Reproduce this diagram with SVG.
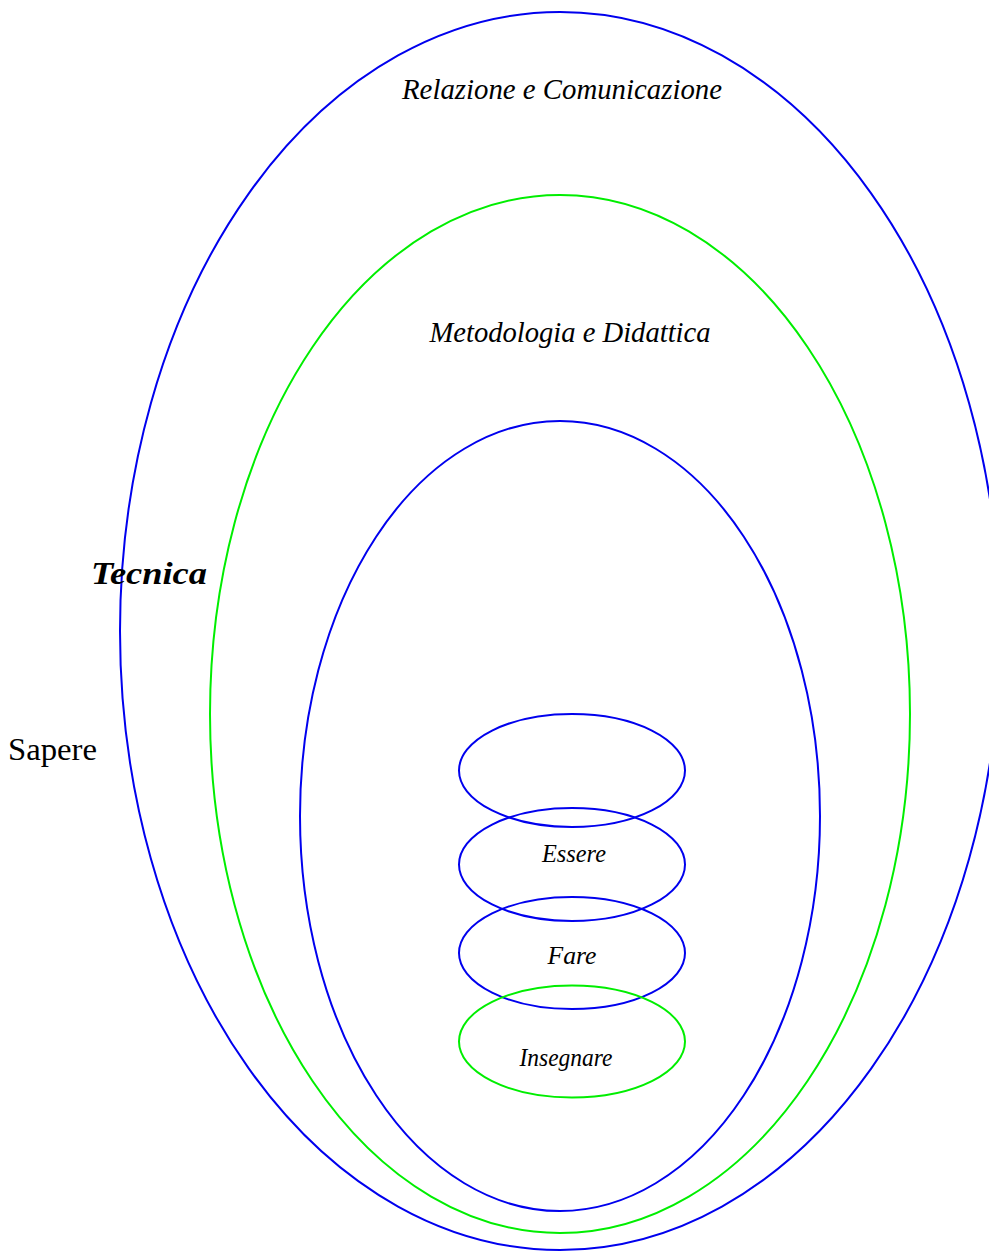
<svg xmlns="http://www.w3.org/2000/svg" width="989" height="1251" viewBox="0 0 989 1251">
<style>
.b{fill:none;stroke:#0000ee;stroke-width:2}
.g{fill:none;stroke:#00ee00;stroke-width:2}
text{font-family:"Liberation Serif",serif;fill:#000}
.i{font-style:italic;text-anchor:middle}
</style>
<rect width="989" height="1251" fill="#fff"/>
<g id="outer"><ellipse class="b" cx="560" cy="631" rx="440" ry="619"/>
<text class="i" x="562" y="99" font-size="30" textLength="320" lengthAdjust="spacingAndGlyphs">Relazione e Comunicazione</text></g>
<g id="middle"><ellipse class="g" cx="560" cy="714" rx="350" ry="519"/>
<text class="i" x="570" y="342" font-size="30" textLength="281" lengthAdjust="spacingAndGlyphs">Metodologia e Didattica</text></g>
<g id="inner"><ellipse class="b" cx="560" cy="816" rx="260" ry="395"/></g>
<g id="tecnica"><text x="91" y="584" font-size="32" font-weight="bold" font-style="italic" textLength="116" lengthAdjust="spacingAndGlyphs">Tecnica</text></g>
<g id="sapere"><text x="8" y="760" font-size="31" textLength="89" lengthAdjust="spacingAndGlyphs">Sapere</text></g>
<g id="top"><ellipse class="b" cx="572" cy="770.5" rx="113" ry="56.5"/></g>
<g id="essere"><ellipse class="b" cx="572" cy="864.5" rx="113" ry="56.5"/>
<text class="i" x="574" y="862" font-size="26" textLength="64" lengthAdjust="spacingAndGlyphs">Essere</text></g>
<g id="fare"><ellipse class="b" cx="572" cy="953" rx="113" ry="56"/>
<text class="i" x="572" y="964" font-size="26" textLength="49" lengthAdjust="spacingAndGlyphs">Fare</text></g>
<g id="insegnare"><ellipse class="g" cx="572" cy="1041.5" rx="113" ry="56"/>
<text class="i" x="566" y="1066" font-size="25" textLength="93" lengthAdjust="spacingAndGlyphs">Insegnare</text></g>
<g id="connectors"/>
</svg>
